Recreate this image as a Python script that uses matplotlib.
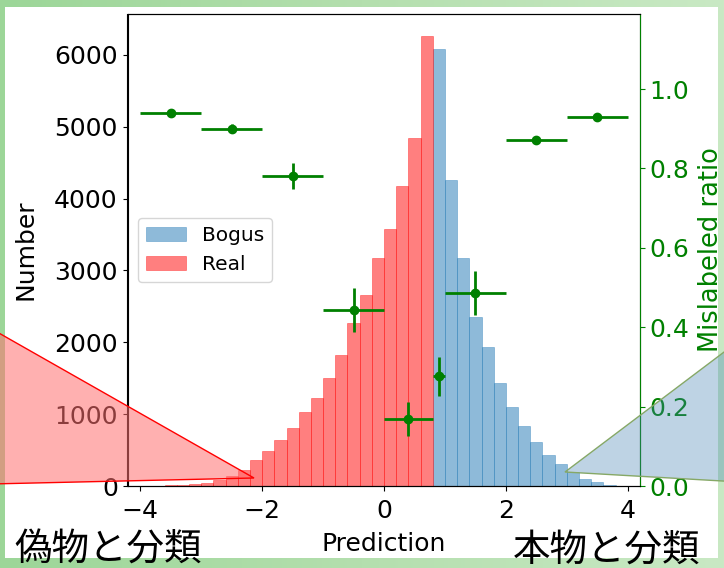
import numpy as np
import matplotlib
matplotlib.use("Agg")
import matplotlib.pyplot as plt
from matplotlib.patches import Polygon, Rectangle
from matplotlib.colors import LinearSegmentedColormap

# ---------------- data ----------------
real_left_edges = np.round(np.arange(-3.6, 0.79, 0.2), 1)
real_counts = [8, 12, 28, 44, 88, 139, 222, 361, 486, 639, 806, 1028, 1223,
               1501, 1821, 2265, 2655, 3169, 3572, 4174, 4837, 6254]
bogus_left_edges = np.round(np.arange(0.8, 3.79, 0.2), 1)
bogus_counts = [6074, 4253, 3169, 2349, 1932, 1432, 1098, 834, 612, 431,
                306, 200, 97, 56, 14]
bin_width = 0.2

ratio_x = [-3.5, -2.5, -1.5, -0.5, 0.4, 0.9, 1.5, 2.5, 3.5]
ratio_xerr = [0.5, 0.5, 0.5, 0.5, 0.4, 0.1, 0.5, 0.5, 0.5]
ratio_y = [0.940, 0.900, 0.781, 0.443, 0.169, 0.276, 0.486, 0.872, 0.930]
ratio_yerr = [0.010, 0.012, 0.032, 0.055, 0.042, 0.050, 0.055, 0.010, 0.008]

left_ticks = [0, 1000, 2000, 3000, 4000, 5000, 6000]
right_ticks = [0.0, 0.2, 0.4, 0.6, 0.8, 1.0]
x_ticks = [-4, -2, 0, 2, 4]

# ---------------- figure ----------------
W, H = 724, 568
fig = plt.figure(figsize=(W / 100, H / 100), dpi=100)

# green slide background
bg = fig.add_axes([0, 0, 1, 1], zorder=-10)
bg.set_axis_off()
cmap = LinearSegmentedColormap.from_list("g", ["#9cd698", "#b4dfae", "#c9e9c4"])
grad = np.linspace(0, 1, 256).reshape(1, -1)
bg.imshow(grad, cmap=cmap, aspect="auto", extent=[0, 1, 0, 1])
bg.set_xlim(0, 1)
bg.set_ylim(0, 1)
bg.add_patch(Rectangle((4.5 / W, 1 - 558 / H), (718 - 4.5) / W, (558 - 7) / H,
                       facecolor="white", edgecolor="none"))

ax = fig.add_axes([127.5 / W, 1 - 486 / H, (640 - 127.5) / W, (486 - 14) / H])
ax.bar(bogus_left_edges, bogus_counts, width=bin_width, align="edge",
       color="C0", alpha=0.5, edgecolor="C0", linewidth=0.5, label="Bogus")
ax.bar(real_left_edges, real_counts, width=bin_width, align="edge",
       color="red", alpha=0.5, edgecolor="red", linewidth=0.5, label="Real")
ax.set_xlim(-4.21, 4.2)
ax.set_ylim(0, 6567)
ax.set_xticks(x_ticks)
ax.set_yticks(left_ticks)
ax.tick_params(labelsize=18)
ax.tick_params(axis="x", pad=6)
ax.set_xlabel("Prediction", fontsize=18, labelpad=6)
ax.set_ylabel("Number", fontsize=18, labelpad=12)
ax.legend(loc="center left", fontsize=14.5)

ax2 = ax.twinx()
ax2.errorbar(ratio_x, ratio_y, xerr=ratio_xerr, yerr=ratio_yerr, fmt="o",
             color="green", markersize=6, linewidth=2)
ax2.set_ylim(0, 1.189)
ax2.set_yticks(right_ticks)
ax2.set_yticklabels([f"{t:.1f}" for t in right_ticks])
ax2.tick_params(axis="y", labelsize=18, colors="green")
ax2.spines["right"].set_color("green")
ax2.set_ylabel("Mislabeled ratio", fontsize=18.5, color="green", labelpad=6)

# callout triangles
def px(x, y):
    return (x / W, 1 - y / H)

red_tri = Polygon([px(-10, 328), px(254, 478), px(-10, 484)], closed=True,
                  transform=fig.transFigure, facecolor=(1, 0.44, 0.44, 0.55),
                  edgecolor="red", linewidth=1, zorder=20)
fig.add_artist(red_tri)
blue_tri = Polygon([px(565, 472), px(740, 340), px(740, 482)], closed=True,
                   transform=fig.transFigure,
                   facecolor=(70 / 255, 130 / 255, 180 / 255, 0.35),
                   edgecolor="#86a866", linewidth=1, zorder=20)
fig.add_artist(blue_tri)

jp = ["Noto Sans CJK JP", "DejaVu Sans"]
fig.text(14 / W, 1 - 550 / H, "偽物と分類", fontsize=27, family=jp,
         va="center", ha="left")
fig.text(700 / W, 1 - 550 / H, "本物と分類", fontsize=27, family=jp,
         va="center", ha="right")

fig.savefig("out.png", dpi=100)
